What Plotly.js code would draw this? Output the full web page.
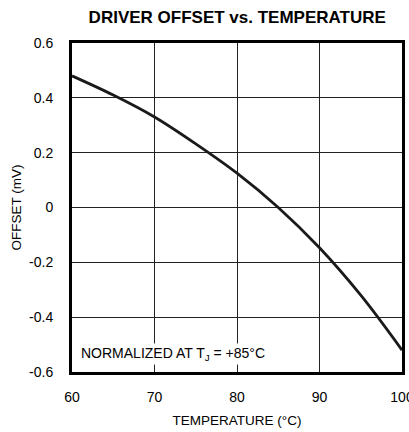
<!DOCTYPE html>
<html>
<head>
<meta charset="utf-8">
<script src="https://cdn.plot.ly/plotly-3.0.1.min.js"></script>
<style>html,body{margin:0;padding:0;background:#fff;}#chart{width:409px;height:432px;}</style>
</head>
<body>
<div id="chart"></div>
<script>
const temperature = [60, 65, 70, 75, 80, 85, 90, 95, 100];
const offset = [0.48, 0.41, 0.33, 0.232, 0.125, 0.0, -0.147, -0.32, -0.52];
const xTicks = [60, 70, 80, 90, 100];
const yTicks = [-0.6, -0.4, -0.2, 0, 0.2, 0.4, 0.6];
const yTickText = ['-0.6', '-0.4', '-0.2', '0', '0.2', '0.4', '0.6'];

const font = 'Liberation Sans, Arial, sans-serif';
const data = [{
  x: temperature, y: offset, type: 'scatter', mode: 'lines',
  line: {color: '#1a1a1a', width: 2.8, shape: 'spline', smoothing: 1},
  hoverinfo: 'skip'
}];
const layout = {
  width: 409, height: 432,
  margin: {l: 72, r: 7, t: 43, b: 60},
  paper_bgcolor: '#fff', plot_bgcolor: '#fff',
  showlegend: false,
  title: {text: '<b>DRIVER OFFSET vs. TEMPERATURE</b>', font: {family: font, size: 17, color: '#000'}, x: 0.58, xanchor: 'center', y: 0.961, yanchor: 'middle'},
  xaxis: {
    range: [60, 100], tickvals: xTicks, ticktext: xTicks.map(String),
    showgrid: true, gridcolor: '#222', gridwidth: 1,
    zeroline: false, showline: true, linecolor: '#000', linewidth: 3, mirror: true,
    ticks: '', ticklabelstandoff: 10, ticklabeloverflow: 'allow',
    tickfont: {family: font, size: 14, color: '#000'},
    title: {text: 'TEMPERATURE (°C)', font: {family: font, size: 13.5, color: '#000'}, standoff: 12}
  },
  yaxis: {
    range: [-0.6, 0.6], tickvals: yTicks, ticktext: yTickText,
    showgrid: true, gridcolor: '#222', gridwidth: 1,
    zeroline: false, showline: true, linecolor: '#000', linewidth: 3, mirror: true,
    ticks: '', ticklabelstandoff: 13, tickfont: {family: font, size: 14, color: '#000'},
    title: {text: 'OFFSET (mV)', font: {family: font, size: 13.5, color: '#000'}, standoff: 5}
  },
  annotations: [{
    xref: 'paper', yref: 'paper', x: 0.022, y: 0.055, xanchor: 'left', yanchor: 'middle',
    text: 'NORMALIZED AT T<sub>J</sub> = +85°C', showarrow: false,
    font: {family: font, size: 14, color: '#000'}, bgcolor: '#fff'
  }]
};
Plotly.newPlot('chart', data, layout, {staticPlot: true});
</script>
</body>
</html>
